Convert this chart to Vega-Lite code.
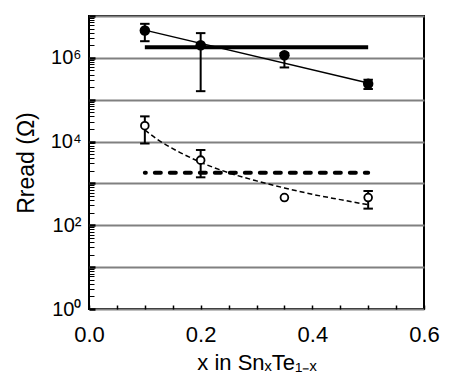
{
  "$schema": "https://vega.github.io/schema/vega-lite/v6.json",
  "width": 335,
  "height": 293,
  "autosize": "none",
  "padding": {"left": 89, "top": 16, "right": 33, "bottom": 79},
  "background": "white",
  "config": {
    "view": {"stroke": "black", "strokeWidth": 2},
    "font": "Liberation Sans",
    "axis": {"labelColor": "black", "titleColor": "black", "tickColor": "black", "labelFont": "Liberation Sans", "titleFont": "Liberation Sans", "titleFontWeight": "normal"}
  },
  "datasets": {
    "pts": [
      {"x": 0.1, "R": 4500000, "type": "filled"},
      {"x": 0.2, "R": 2000000, "type": "filled"},
      {"x": 0.35, "R": 1150000, "type": "filled"},
      {"x": 0.5, "R": 240000, "type": "filled"},
      {"x": 0.1, "R": 24000, "type": "open"},
      {"x": 0.2, "R": 3600, "type": "open"},
      {"x": 0.35, "R": 460, "type": "open"},
      {"x": 0.5, "R": 460, "type": "open"}
    ],
    "err": [
      {"x": 0.1, "R": 2500000, "R2": 6500000},
      {"x": 0.2, "R": 160000, "R2": 3900000},
      {"x": 0.35, "R": 590000, "R2": 1300000},
      {"x": 0.5, "R": 180000, "R2": 300000},
      {"x": 0.1, "R": 9000, "R2": 40000},
      {"x": 0.2, "R": 1400, "R2": 6300},
      {"x": 0.5, "R": 250, "R2": 660}
    ],
    "caps": [
      {"x": 0.1, "R": 2500000}, {"x": 0.1, "R": 6500000},
      {"x": 0.2, "R": 160000}, {"x": 0.2, "R": 3900000},
      {"x": 0.35, "R": 590000}, {"x": 0.35, "R": 1300000},
      {"x": 0.5, "R": 180000}, {"x": 0.5, "R": 300000},
      {"x": 0.1, "R": 9000}, {"x": 0.1, "R": 40000},
      {"x": 0.2, "R": 1400}, {"x": 0.2, "R": 6300},
      {"x": 0.5, "R": 250}, {"x": 0.5, "R": 660}
    ],
    "hsolid": [{"x": 0.1, "R": 1800000}, {"x": 0.5, "R": 1800000}],
    "hdash": [{"x": 0.1, "R": 1800}, {"x": 0.5, "R": 1800}],
    "fitSolid": [{"x": 0.1, "R": 4600000}, {"x": 0.5, "R": 250000}],
    "fitDash": [
      {"x": 0.1, "R": 19000}, {"x": 0.125, "R": 10700}, {"x": 0.15, "R": 6800},
      {"x": 0.2, "R": 3200}, {"x": 0.25, "R": 1800}, {"x": 0.3, "R": 1150},
      {"x": 0.35, "R": 780}, {"x": 0.4, "R": 550}, {"x": 0.45, "R": 410}, {"x": 0.5, "R": 310}
    ]
  },
  "encoding": {
    "x": {"field": "x", "type": "quantitative", "scale": {"domain": [0, 0.6], "nice": false, "zero": false},
      "axis": {
        "values": [0, 0.05, 0.1, 0.15, 0.2, 0.25, 0.3, 0.35, 0.4, 0.45, 0.5, 0.55, 0.6],
        "labelExpr": "round(datum.value*100) % 20 == 0 ? format(datum.value, '.1f') : ''",
        "tickSize": -4, "tickWidth": 1.5, "domain": false, "grid": false,
        "labelFontSize": 22, "labelPadding": 19, "labelOverlap": false, "labelFlush": false,
        "title": "x in SnₓTe₁₋ₓ", "titleFontSize": 22, "titlePadding": 7
      }},
    "y": {"field": "R", "type": "quantitative", "scale": {"type": "log", "domain": [1, 10000000], "nice": false},
      "axis": {
        "values": [1,2,3,4,5,6,7,8,9,10,20,30,40,50,60,70,80,90,100,200,300,400,500,600,700,800,900,1000,2000,3000,4000,5000,6000,7000,8000,9000,10000,20000,30000,40000,50000,60000,70000,80000,90000,100000,200000,300000,400000,500000,600000,700000,800000,900000,1000000,2000000,3000000,4000000,5000000,6000000,7000000,8000000,9000000,10000000],
        "labelExpr": "datum.value == 1 ? '10⁰' : datum.value == 100 ? '10²' : datum.value == 10000 ? '10⁴' : datum.value == 1000000 ? '10⁶' : ''",
        "tickSize": {"condition": {"test": "abs(log(datum.value)/LN10 - round(log(datum.value)/LN10)) < 0.01", "value": -6}, "value": -5},
        "tickWidth": {"condition": {"test": "abs(log(datum.value)/LN10 - round(log(datum.value)/LN10)) < 0.01", "value": 2.5}, "value": 1},
        "grid": true,
        "gridOpacity": {"condition": {"test": "abs(log(datum.value)/LN10 - round(log(datum.value)/LN10)) < 0.01", "value": 1}, "value": 0},
        "gridColor": "#808080", "gridWidth": 2,
        "domain": false,
        "labelFontSize": 20, "labelPadding": 14, "labelOverlap": false, "labelFlush": false,
        "title": "Rread (Ω)", "titleFontSize": 23, "titlePadding": 12
      }}
  },
  "layer": [
    {
      "data": {"name": "hsolid"},
      "mark": {"type": "line", "color": "black", "strokeWidth": 4, "strokeCap": "butt"}
    },
    {
      "data": {"name": "hdash"},
      "mark": {"type": "line", "color": "black", "strokeWidth": 4, "strokeCap": "round", "strokeDash": [6, 9], "strokeDashOffset": 5}
    },
    {
      "data": {"name": "fitSolid"},
      "mark": {"type": "line", "color": "black", "strokeWidth": 1.5}
    },
    {
      "data": {"name": "fitDash"},
      "mark": {"type": "line", "color": "black", "strokeWidth": 1.5, "strokeDash": [5, 3], "interpolate": "monotone"}
    },
    {
      "data": {"name": "err"},
      "mark": {"type": "rule", "color": "black", "strokeWidth": 2},
      "encoding": {"y2": {"field": "R2"}}
    },
    {
      "data": {"name": "caps"},
      "mark": {"type": "point", "shape": "M-1,0H1", "filled": false, "color": "black", "strokeWidth": 2, "size": 90, "opacity": 1}
    },
    {
      "data": {"name": "pts"},
      "transform": [{"filter": "datum.type == 'filled'"}],
      "mark": {"type": "point", "shape": "circle", "filled": true, "color": "black", "opacity": 1, "size": 110}
    },
    {
      "data": {"name": "pts"},
      "transform": [{"filter": "datum.type == 'open'"}],
      "mark": {"type": "point", "shape": "circle", "filled": false, "fill": "white", "fillOpacity": 1, "stroke": "black", "strokeWidth": 1.8, "opacity": 1, "size": 60}
    }
  ]
}
